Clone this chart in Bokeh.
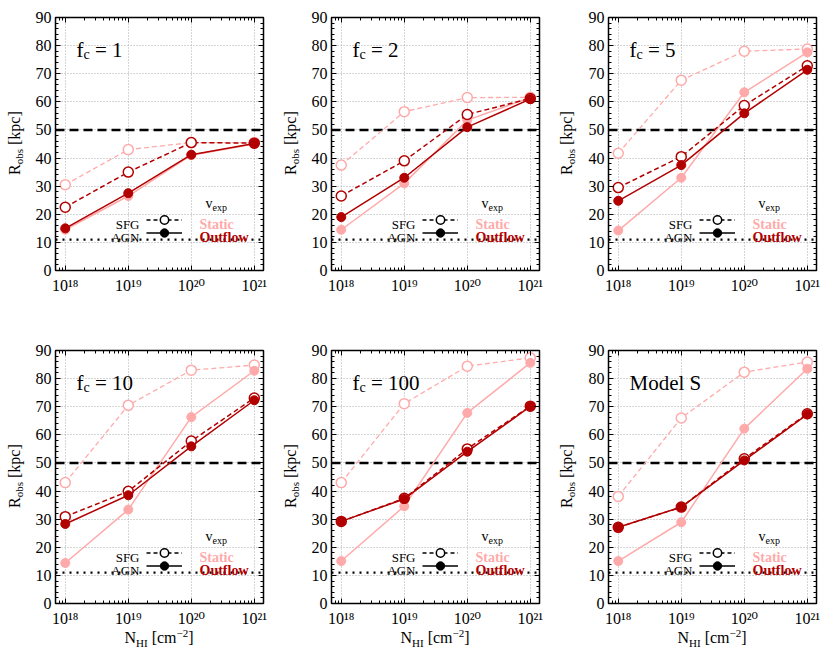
from bokeh.plotting import figure
from bokeh.models import (Range1d, Span, Label, Legend, LegendItem, FixedTicker,
                          SingleIntervalTicker, LinearAxis, LogAxis, Div)
from bokeh.layouts import column, row
from bokeh.embed import file_html
from bokeh.resources import INLINE

# ---------------- data ----------------
nhi = [1e18, 1e19, 1e20, 1e21]
nhi_tick_labels = ["10\u00b9\u2078", "10\u00b9\u2079", "10\u00b2\u2070", "10\u00b2\u00b9"]
panel_titles = [("f", "c", " = 1"), ("f", "c", " = 2"), ("f", "c", " = 5"),
                ("f", "c", " = 10"), ("f", "c", " = 100"), ("Model S", "", "")]

static_sfg = [[30.5, 43.0, 45.5, 45.5],
              [37.5, 56.5, 61.5, 61.6],
              [41.7, 67.7, 78.0, 78.8],
              [43.0, 70.5, 83.0, 84.8],
              [43.0, 71.1, 84.4, 87.4],
              [38.1, 66.0, 82.3, 85.9]]
static_agn = [[14.5, 26.5, 41.0, 45.0],
              [14.5, 31.0, 53.5, 61.5],
              [14.2, 33.0, 63.4, 77.6],
              [14.4, 33.4, 66.3, 82.8],
              [15.1, 34.6, 67.8, 85.6],
              [15.1, 28.9, 62.2, 83.5]]
outflow_sfg = [[22.5, 35.0, 45.5, 45.3],
               [26.5, 39.0, 55.5, 61.2],
               [29.5, 40.5, 58.7, 72.8],
               [30.9, 39.9, 57.8, 73.1],
               [29.2, 37.4, 55.0, 70.2],
               [27.1, 34.3, 51.5, 67.5]]
outflow_agn = [[15.0, 27.5, 41.2, 45.2],
               [19.0, 33.0, 51.0, 61.0],
               [24.8, 37.5, 55.9, 71.4],
               [28.3, 38.5, 55.9, 72.3],
               [29.2, 37.2, 54.0, 70.1],
               [27.1, 34.3, 50.9, 67.3]]
r_limit = 50.0
r_floor = 11.0

# ---------------- style ----------------
PINK = "#FFAAAA"
DARK = "#B20000"
FONT = "Liberation Serif"
TICK_FONT = "Liberation Serif, DejaVu Serif"
FW, FH = 208, 253
LEFT = [25, 25, 26]
RIGHT = [13, 13, 12]
TOP = 17
BOTTOM = [63, 22]
YDIV_W = 30

TW = {'R': 667, 'o': 500, 'b': 500, 's': 389, ' ': 250, '[': 333, ']': 333,
      'k': 500, 'p': 500, 'c': 444, 'N': 722, 'H': 722, 'I': 333, 'm': 778,
      '2': 500, 'f': 333, '=': 564, '1': 500, '0': 500, '5': 500,
      'v': 500, 'e': 444, 'x': 500, 'M': 889, 'd': 500, 'l': 278, 'S': 556}


def tw(s, size):
    return sum(TW.get(ch, 500) for ch in s) * size / 1000.0


def add_pieces(p, pieces, x0, y0):
    pos = 0.0
    for text, size, shift in pieces:
        body = text.lstrip(" ")
        lead = text[:len(text) - len(body)]
        if body:
            p.add_layout(Label(x=x0 + pos + tw(lead, size), y=y0 + shift,
                               x_units="screen", y_units="screen", text=body,
                               text_font=FONT, text_font_size=f"{size}px",
                               text_baseline="alphabetic", text_align="left",
                               text_color="black"))
        pos += tw(text, size)


minor_x = [m * 10.0 ** e for e in range(17, 21) for m in range(2, 10)]


def key_legend(items, y_center):
    return Legend(items=items, location=(91, y_center - 10.5),
                  glyph_width=36, glyph_height=21, label_height=21,
                  label_width=0, label_standoff=0, padding=0, margin=0,
                  spacing=0, background_fill_alpha=0, border_line_alpha=0,
                  label_text_font_size="1px")


def make_panel(i):
    col, rw = i % 3, i // 3
    p = figure(frame_width=FW, frame_height=FH, x_axis_type="log",
               x_range=Range1d(7e17, 1.4e21), y_range=Range1d(0, 90),
               output_backend="svg", toolbar_location=None,
               min_border_left=LEFT[col], min_border_right=RIGHT[col],
               min_border_top=TOP, min_border_bottom=BOTTOM[rw])
    p.background_fill_color = "white"
    p.border_fill_color = "white"
    p.outline_line_color = "black"
    p.outline_line_width = 1.5

    xt = FixedTicker(ticks=nhi, minor_ticks=minor_x)
    yt = SingleIntervalTicker(interval=10, num_minor_ticks=5)

    xa = p.xaxis[0]
    xa.ticker = xt
    xa.major_label_overrides = {t: l for t, l in zip(nhi, nhi_tick_labels)}
    ya = p.yaxis[0]
    ya.ticker = yt

    ra = LinearAxis(ticker=yt, major_label_overrides={float(v): "" for v in range(0, 100, 10)})
    ta = LogAxis(ticker=xt, major_label_overrides={t: "" for t in nhi})
    p.add_layout(ra, "right")
    p.add_layout(ta, "above")

    for ax in (xa, ya, ra, ta):
        ax.axis_line_color = None
        ax.major_tick_in = 5
        ax.major_tick_out = 0
        ax.minor_tick_in = 3
        ax.minor_tick_out = 0
        ax.major_tick_line_color = "black"
        ax.minor_tick_line_color = "black"
        ax.major_label_text_font = TICK_FONT
        ax.major_label_text_font_size = "16px"
        ax.major_label_text_color = "black"
    xa.major_label_standoff = 6
    ya.major_label_standoff = 4
    ra.major_label_standoff = 0
    ta.major_label_standoff = 0

    p.xgrid.ticker = FixedTicker(ticks=nhi)
    p.ygrid.ticker = SingleIntervalTicker(interval=10)
    for g in (p.xgrid, p.ygrid):
        g.grid_line_color = "#AAAAAA"
        g.grid_line_dash = "1 2"
        g.grid_line_width = 1

    p.add_layout(Span(location=r_limit, dimension="width", line_color="black",
                      line_width=2.4, line_dash="9 5", level="underlay"))
    p.add_layout(Span(location=r_floor, dimension="width", line_color="black",
                      line_width=2.4, line_dash="2 5", level="underlay"))

    # static (light) then outflow (dark)
    p.line(nhi, static_sfg[i], line_color=PINK, line_width=1.3, line_dash="5 3")
    p.scatter(nhi, static_sfg[i], marker="circle", size=10, line_color=PINK,
              line_width=1.5, fill_color="white")
    p.line(nhi, static_agn[i], line_color=PINK, line_width=1.5)
    p.scatter(nhi, static_agn[i], marker="circle", size=9, line_color=PINK,
              fill_color=PINK)
    p.line(nhi, outflow_sfg[i], line_color=DARK, line_width=1.5, line_dash="5 3")
    p.scatter(nhi, outflow_sfg[i], marker="circle", size=10, line_color=DARK,
              line_width=1.5, fill_color="white")
    p.line(nhi, outflow_agn[i], line_color=DARK, line_width=1.5)
    p.scatter(nhi, outflow_agn[i], marker="circle", size=9, line_color=DARK,
              fill_color=DARK)

    # legend keys: hidden black copies of the series, shown only in the legend
    l1 = p.line(nhi, outflow_sfg[i], line_color="black", line_width=1.5,
                line_dash="4 3", visible=False)
    s1 = p.scatter(nhi, outflow_sfg[i], marker="circle", line_color="black",
                   line_width=1.5, fill_color="white", visible=False)
    l2 = p.line(nhi, outflow_agn[i], line_color="black", line_width=1.5,
                visible=False)
    s2 = p.scatter(nhi, outflow_agn[i], marker="circle", line_color="black",
                   fill_color="black", visible=False)

    row1_y, row2_y = 51, 38
    p.add_layout(key_legend([LegendItem(label=" ", renderers=[l1, s1])], row1_y))
    p.add_layout(key_legend([LegendItem(label=" ", renderers=[l2, s2])], row2_y))

    # legend texts
    for txt, yy in (("SFG", row1_y), ("AGN", row2_y)):
        p.add_layout(Label(x=84, y=yy - 4.5, x_units="screen", y_units="screen",
                           text=txt, text_font=FONT, text_font_size="13px",
                           text_align="right", text_baseline="alphabetic",
                           text_color="black"))
    for txt, yy, c in (("Static", row1_y, PINK), ("Outflow", row2_y, DARK)):
        p.add_layout(Label(x=144, y=yy - 4.5, x_units="screen", y_units="screen",
                           text=txt, text_font=FONT, text_font_size="14px",
                           text_font_style="bold", text_align="left",
                           text_baseline="alphabetic", text_color=c))
    add_pieces(p, [("v", 14, 0), ("exp", 10, -4)], 150, 67)

    # panel title
    main, sub, rest = panel_titles[i]
    add_pieces(p, [(main, 21, 0), (sub, 14, -5), (rest, 21, 0)], 21, 221)
    return p


def ylabel_div(height):
    html = ('<div style="writing-mode:vertical-rl;transform:rotate(180deg);'
            f'width:18px;height:{FH}px;margin:{TOP}px 0 0 6px;line-height:18px;'
            "text-align:center;font-family:'Liberation Serif';font-size:16px;"
            'color:black;white-space:nowrap;">'
            'R<sub style="font-size:11px;line-height:0;">obs</sub> [kpc]</div>')
    return Div(text=html, width=YDIV_W, height=height, margin=0)


def xlabel_div(col):
    fig_w = LEFT[col] + FW + RIGHT[col]
    html = (f'<div style="width:{FW}px;margin-left:{LEFT[col]}px;'
            "text-align:center;font-family:'Liberation Serif';font-size:16px;"
            'line-height:18px;color:black;white-space:nowrap;">'
            'N<sub style="font-size:11px;line-height:0;">HI</sub> [cm'
            '<sup style="font-size:11px;line-height:0;">\u22122</sup>]</div>')
    return Div(text=html, width=fig_w, height=30, margin=0)


panels = [make_panel(i) for i in range(6)]
top_row = row(*[row(ylabel_div(TOP + FH + BOTTOM[0]), panels[c]) for c in range(3)])
bottom_row = row(*[row(ylabel_div(TOP + FH + BOTTOM[1]),
                       column(panels[3 + c], xlabel_div(c))) for c in range(3)])
layout = column(top_row, bottom_row)
open("out.html", "w").write(file_html(layout, INLINE))
